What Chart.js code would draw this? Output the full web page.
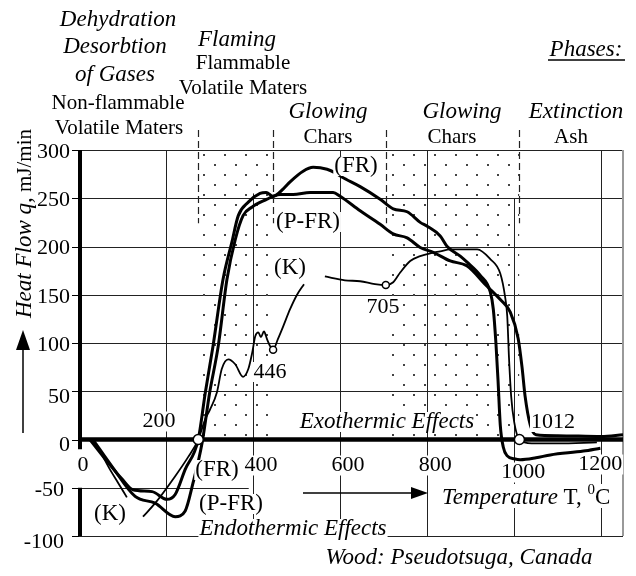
<!DOCTYPE html>
<html lang="en">
  <head>
    <meta charset="UTF-8" />
    <title>Heat Flow of Wood</title>
    <style>
      * {
        box-sizing: border-box;
        margin: 0;
        padding: 0;
      }

      body {
        background-color: #fff;
        width: 636px;
        height: 576px;
        overflow: hidden;
      }

      #chartBox {
        position: relative;
        width: 636px;
        height: 576px;
      }
    </style>
    <script src="https://cdn.jsdelivr.net/npm/chart.js"></script>
  </head>
  <body>
    <div id="chartBox">
      <canvas id="heatChart" width="636" height="576"></canvas>
    </div>
    <script>
      // temperature (deg C) and heat flow (mJ/min) for each sample
      const frTemp = [25, 67, 99, 124, 168, 202, 221, 244, 274, 290, 308, 331, 351, 366, 389, 416, 430, 446, 470, 485, 515, 538, 570, 590, 604, 646, 692, 722, 754, 784, 800, 830, 846, 876, 891, 922, 945, 952, 958, 963, 968, 975, 984, 1000, 1014, 1050, 1083, 1159, 1198];
      const frHeat = [0, -24, -41, -52, -54, -62, -57, -31, 0, 48, 97, 166, 204, 232, 246, 255, 256, 252, 260, 267, 278, 282, 280, 276, 272, 262, 249, 239, 236, 225, 221, 211, 200, 190, 184, 170, 153, 135, 100, 60, 15, -8, -17, -20, -21, -19, -16, -12, -9];

      const pfrTemp = [32, 76, 129, 175, 221, 244, 262, 283, 300, 320, 340, 359, 377, 398, 432, 446, 462, 492, 531, 584, 600, 646, 692, 722, 754, 784, 814, 853, 891, 937, 968, 991, 1009, 1018, 1025, 1037, 1050, 1100, 1200, 1250];
      const pfrHeat = [0, -28, -59, -66, -80, -74, -45, -3, 48, 97, 166, 207, 232, 241, 249, 252, 254, 254, 256, 256, 252, 237, 223, 213, 209, 199, 194, 185, 180, 159, 145, 132, 105, 75, 45, 15, 5, 4, 3, 5];

      const kTemp = [25, 45, 71, 90, 110, 128, 147, 175, 221, 251, 274, 290, 301, 317, 328, 343, 359, 377, 389, 398, 405, 412, 418, 425, 432, 440, 446, 457, 469, 485, 501, 517, 540, 565, 611, 646, 680, 705, 722, 738, 761, 784, 807, 830, 853, 915, 945, 968, 979, 984, 988, 993, 1000, 1012, 1040, 1100, 1190];
      const kHeat = [0, -10, -31, -45, -60, null, -80, -66, -38, -18, 0, 21, 31, 49, 73, 83, 78, 65, 73, 90, 107, 111, 106, 112, 104, 96, 93, 104, 117, 135, 150, 161, null, 169, 165, 164, 161, 160, 163, 173, 185, 190, 193, 195, 197, 197, 187, 172, 148, 128, 85, 45, 18, 0, -4, -4, -3];

      // phase boundaries (deg C) and the heat flow where they are marked
      const phaseBounds = [274, 446, 705, 1012];
      const markerHeat = [0, 93, 160, 0];

      const xTicks = [0, 200, 400, 600, 800, 1000, 1200];
      const yTicks = [300, 250, 200, 150, 100, 50, 0, -50, -100];

      const serif = '"Liberation Serif", "Times New Roman", serif';
      const upright = (size) => `${size}px ${serif}`;
      const italic = (size) => `italic ${size}px ${serif}`;

      const toPoints = (temps, heats) =>
        temps.map((t, i) => ({ x: t, y: heats[i] }));

      function makeStipple(ctx) {
        const tile = document.createElement("canvas");
        tile.width = 21;
        tile.height = 20;
        const t = tile.getContext("2d");
        t.fillStyle = "#444";
        t.fillRect(4, 4, 2, 2);
        t.fillRect(14, 14, 2, 2);
        return ctx.createPattern(tile, "repeat");
      }

      function segment(ctx, x1, y1, x2, y2) {
        ctx.beginPath();
        ctx.moveTo(x1, y1);
        ctx.lineTo(x2, y2);
        ctx.stroke();
      }

      function text(ctx, str, cx, cy, font, boxed) {
        ctx.font = font;
        const w = ctx.measureText(str).width;
        if (boxed) {
          ctx.fillStyle = "#fff";
          ctx.fillRect(cx - w / 2 - 1, cy - 10, w + 2, 20);
        }
        ctx.fillStyle = "#000";
        ctx.textAlign = "center";
        ctx.textBaseline = "middle";
        ctx.fillText(str, cx, cy);
      }

      // grid, axes and all the annotation text
      const decorations = {
        id: "decorations",
        beforeDatasetsDraw(chart) {
          const { ctx, scales } = chart;
          const px = (v) => scales.x.getPixelForValue(v);
          const py = (v) => scales.y.getPixelForValue(v);
          ctx.save();

          ctx.strokeStyle = "#222";
          ctx.lineWidth = 1;
          yTicks.forEach((v) => {
            if (v === 0) return;
            const end = v === -50 ? 390 : 1250;
            const y = Math.round(py(v)) + 0.5;
            segment(ctx, px(0), y, px(end), y);
          });
          xTicks.forEach((v) => {
            if (v === 0) return;
            const top = v === 400 ? 255 : v === 1000 ? 250 : 300;
            const x = Math.round(px(v)) + 0.5;
            segment(ctx, x, py(top), x, py(-100));
          });
          ctx.strokeStyle = "#999";
          ctx.lineWidth = 2;
          segment(ctx, px(1250), py(300), px(1250), py(-100));

          // phase boundaries
          ctx.strokeStyle = "#222";
          ctx.lineWidth = 1.2;
          ctx.setLineDash([7, 4]);
          phaseBounds.forEach((t) => {
            const x = Math.round(px(t)) + 0.5;
            segment(ctx, x, py(300) - 20, x, py(224));
          });
          ctx.setLineDash([]);

          // axes
          ctx.strokeStyle = "#000";
          ctx.lineWidth = 4.5;
          segment(ctx, px(0), py(0), px(1250), py(0));
          ctx.lineWidth = 4;
          segment(ctx, px(0) + 1, py(300), px(0) + 1, py(-10));
          segment(ctx, px(0) + 1, py(-50), px(0) + 1, py(-100));
          ctx.lineWidth = 1;
          yTicks.forEach((v) => {
            const y = Math.round(py(v)) + 0.5;
            segment(ctx, px(0) - 7, y, px(0), y);
          });
          ctx.restore();
        },
        afterDatasetsDraw(chart) {
          const { ctx, scales } = chart;
          const px = (v) => scales.x.getPixelForValue(v);
          const py = (v) => scales.y.getPixelForValue(v);
          ctx.save();

          // curve names and marked temperatures
          text(ctx, "(FR)", 356, 166, upright(23), true);
          text(ctx, "(P-FR)", 308, 222, upright(23), true);
          text(ctx, "(K)", 290, 268, upright(23), true);
          text(ctx, String(phaseBounds[2]), 383, 307, upright(22), true);
          text(ctx, String(phaseBounds[1]), 270, 372, upright(22), true);
          text(ctx, String(phaseBounds[3]), 553, 422, upright(22), true);
          text(ctx, "Exothermic Effects", 387, 422, italic(23), true);
          text(ctx, "(FR)", 217, 470, upright(23), true);
          text(ctx, "(P-FR)", 231, 504, upright(23), true);
          text(ctx, "(K)", 110, 514, upright(23), true);
          text(ctx, "Endothermic Effects", 293, 529, italic(23), true);

          // temperature ticks
          const shift = { 0: [4, 26], 200: [-7, -18], 1000: [9, 33], 1200: [-1, 25] };
          xTicks.forEach((v) => {
            const [dx, dy] = shift[v] || [8, 26];
            text(ctx, String(v), px(v) + dx, py(0) + dy, upright(22), true);
          });

          // temperature axis title with arrow
          const ay = 493;
          ctx.fillStyle = "#fff";
          ctx.fillRect(438, 484, 184, 24);
          ctx.strokeStyle = "#000";
          ctx.lineWidth = 1.5;
          segment(ctx, 303, ay, 414, ay);
          ctx.fillStyle = "#000";
          ctx.beginPath();
          ctx.moveTo(428, ay);
          ctx.lineTo(411, ay - 6);
          ctx.lineTo(411, ay + 6);
          ctx.closePath();
          ctx.fill();
          ctx.textAlign = "left";
          ctx.textBaseline = "alphabetic";
          let tx = 442;
          const base = 504;
          ctx.font = italic(23);
          ctx.fillText("Temperature", tx, base);
          tx += ctx.measureText("Temperature").width;
          ctx.font = upright(23);
          ctx.fillText(" T, ", tx, base);
          tx += ctx.measureText(" T, ").width;
          ctx.font = upright(15);
          ctx.fillText("0", tx, base - 10);
          tx += ctx.measureText("0").width;
          ctx.font = upright(23);
          ctx.fillText("C", tx, base);
          ctx.restore();
        },
        afterDraw(chart) {
          const { ctx, scales } = chart;
          const py = (v) => scales.y.getPixelForValue(v);
          ctx.save();

          // heat flow ticks
          ctx.font = upright(22);
          ctx.fillStyle = "#000";
          ctx.textAlign = "right";
          ctx.textBaseline = "middle";
          yTicks.forEach((v) => {
            const right = v < 0 ? 64 : 70;
            const dy = v === 50 || v === 0 || v === -100 ? 6 : 2;
            ctx.fillText(String(v), right, py(v) + dy);
          });

          // heat flow axis title with arrow
          ctx.strokeStyle = "#000";
          ctx.lineWidth = 1.5;
          segment(ctx, 23, 433, 23, 348);
          ctx.beginPath();
          ctx.moveTo(23, 330);
          ctx.lineTo(16, 350);
          ctx.lineTo(30, 350);
          ctx.closePath();
          ctx.fill();
          ctx.save();
          ctx.translate(31, 318);
          ctx.rotate(-Math.PI / 2);
          ctx.textAlign = "left";
          ctx.textBaseline = "alphabetic";
          ctx.font = italic(23);
          ctx.fillText("Heat Flow q,", 0, 0);
          const off = ctx.measureText("Heat Flow q,").width;
          ctx.font = upright(21);
          ctx.fillText(" mJ/min", off, 0);
          ctx.restore();

          // phase names above the plot
          text(ctx, "Dehydration", 118, 20, italic(23));
          text(ctx, "Desorbtion", 115, 47, italic(23));
          text(ctx, "of Gases", 115, 75, italic(23));
          text(ctx, "Non-flammable", 118, 103, upright(21));
          text(ctx, "Volatile Maters", 119, 128, upright(21));
          text(ctx, "Flaming", 237, 40, italic(23));
          text(ctx, "Flammable", 243, 63, upright(21));
          text(ctx, "Volatile Maters", 243, 88, upright(21));
          text(ctx, "Glowing", 328, 112, italic(23));
          text(ctx, "Chars", 328, 137, upright(21));
          text(ctx, "Glowing", 462, 112, italic(23));
          text(ctx, "Chars", 452, 137, upright(21));
          text(ctx, "Extinction", 576, 112, italic(23));
          text(ctx, "Ash", 571, 137, upright(21));
          text(ctx, "Phases:", 586, 50, italic(23));
          ctx.lineWidth = 1.5;
          segment(ctx, 548, 60, 625, 60);

          text(ctx, "Wood: Pseudotsuga, Canada", 459, 558, italic(23));
          ctx.restore();
        },
      };

      const canvas = document.getElementById("heatChart");
      const stipple = makeStipple(canvas.getContext("2d"));

      const curve = (label, temps, heats, width) => ({
        label,
        data: toPoints(temps, heats),
        borderColor: "#000",
        borderWidth: width,
        pointRadius: 0,
        cubicInterpolationMode: "monotone",
        spanGaps: false,
        fill: false,
        order: 1,
      });

      const stippleBand = (label, from, to) => ({
        label,
        data: [
          { x: from, y: 300 },
          { x: to, y: 300 },
        ],
        fill: "origin",
        backgroundColor: stipple,
        borderWidth: 0,
        borderColor: "rgba(0,0,0,0)",
        pointRadius: 0,
        order: 5,
      });

      new Chart(canvas, {
        type: "line",
        data: {
          datasets: [
            {
              label: "markers",
              data: toPoints(phaseBounds, markerHeat),
              showLine: false,
              pointRadius: (c) => (c.raw && c.raw.y === 0 ? 5 : 3.5),
              pointBackgroundColor: "#fff",
              pointBorderColor: "#000",
              pointBorderWidth: 1.5,
              order: 0,
            },
            curve("(FR)", frTemp, frHeat, 3),
            curve("(P-FR)", pfrTemp, pfrHeat, 3),
            curve("(K)", kTemp, kHeat, 1.8),
            stippleBand("flaming", phaseBounds[0], phaseBounds[1]),
            stippleBand("glowing", phaseBounds[2], phaseBounds[3]),
          ],
        },
        options: {
          responsive: false,
          animation: false,
          devicePixelRatio: 1,
          layout: {
            padding: { left: 79, right: 13, top: 150, bottom: 40 },
          },
          scales: {
            x: { type: "linear", min: 0, max: 1250, display: false },
            y: { type: "linear", min: -100, max: 300, display: false },
          },
          plugins: {
            legend: { display: false },
            tooltip: { enabled: false },
          },
        },
        plugins: [decorations],
      });
    </script>
  </body>
</html>
